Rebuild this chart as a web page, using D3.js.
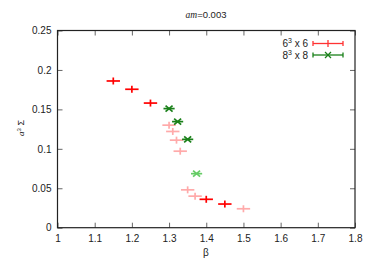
<!DOCTYPE html>
<html><head><meta charset="utf-8">
<script src="https://cdn.jsdelivr.net/npm/d3@7"></script>
<style>body{margin:0;background:#fff}text{font-family:"Liberation Sans",Arial,sans-serif}</style>
</head><body>
<svg id="c" width="374" height="261"></svg>
<script>
const xTicks=[1,1.1,1.2,1.3,1.4,1.5,1.6,1.7,1.8];
const yTicks=[0,0.05,0.1,0.15,0.2,0.25];
const xTickLabels=["1","1.1","1.2","1.3","1.4","1.5","1.6","1.7","1.8"];
const yTickLabels=["0","0.05","0.1","0.15","0.2","0.25"];
// 6^3 x 6 (bright red)
const redBeta=[1.15,1.20,1.25,1.40,1.45];
const redVal=[0.186,0.1755,0.158,0.036,0.030];
const redErr=[0.018,0.018,0.018,0.018,0.018];
// 6^3 x 6 (pale red)
const paleRedBeta=[1.30,1.31,1.32,1.33,1.35,1.37,1.50];
const paleRedVal=[0.130,0.122,0.111,0.097,0.048,0.040,0.024];
const paleRedErr=[0.018,0.018,0.018,0.018,0.018,0.018,0.018];
// 8^3 x 8 (dark green)
const greenBeta=[1.30,1.323,1.35];
const greenVal=[0.151,0.1345,0.112];
const greenErr=[0.015,0.015,0.015];
// 8^3 x 8 (pale green)
const paleGreenBeta=[1.374];
const paleGreenVal=[0.0685];
const paleGreenErr=[0.015];

const svg=d3.select("#c");
const L=57.5,R=355,T=30.5,B=227.7;
const x=d3.scaleLinear().domain([1,1.8]).range([L,R]);
const y=d3.scaleLinear().domain([0,0.25]).range([B,T]);

const ax=svg.append("g").attr("transform",`translate(0,${B})`).call(d3.axisBottom(x).tickValues(xTicks).tickFormat((d,i)=>xTickLabels[i]).tickSizeInner(-5).tickSizeOuter(0).tickPadding(7));
const ay=svg.append("g").attr("transform",`translate(${L},0)`).call(d3.axisLeft(y).tickValues(yTicks).tickFormat((d,i)=>yTickLabels[i]).tickSizeInner(-5).tickSizeOuter(0).tickPadding(6));
const at=svg.append("g").attr("transform",`translate(0,${T})`).call(d3.axisTop(x).tickValues(xTicks).tickFormat("").tickSizeInner(-5).tickSizeOuter(0));
const ar=svg.append("g").attr("transform",`translate(${R},0)`).call(d3.axisRight(y).tickValues(yTicks).tickFormat("").tickSizeInner(-5).tickSizeOuter(0));
[ax,ay,at,ar].forEach(g=>{g.select(".domain").remove();g.selectAll("line").attr("stroke","#666");g.selectAll("text").attr("font-size",10).attr("fill","#222").attr("font-family","Liberation Sans, Arial, sans-serif");});
svg.append("rect").attr("x",L).attr("y",T).attr("width",R-L).attr("height",B-T).attr("fill","none").attr("stroke","#222").attr("stroke-width",1.2);

function plot(beta,val,err,color,marker){
  const g=svg.append("g").attr("stroke",color).attr("stroke-width",1.7).attr("fill","none");
  beta.forEach((b,i)=>{
    const cx=x(b),cy=y(val[i]),x0=x(b-err[i]),x1=x(b+err[i]);
    g.append("line").attr("x1",x0).attr("x2",x1).attr("y1",cy).attr("y2",cy);
    if(marker==="+"){
      g.append("line").attr("x1",cx).attr("x2",cx).attr("y1",cy-3.5).attr("y2",cy+3.5);
    } else {
      g.append("line").attr("x1",cx-3.5).attr("x2",cx+3.5).attr("y1",cy-3).attr("y2",cy+3);
      g.append("line").attr("x1",cx-3.5).attr("x2",cx+3.5).attr("y1",cy+3).attr("y2",cy-3);
    }
  });
}
plot(paleRedBeta,paleRedVal,paleRedErr,"#ffaaaa","+");
plot(paleGreenBeta,paleGreenVal,paleGreenErr,"#66cc66","x");
plot(redBeta,redVal,redErr,"#ff0000","+");
plot(greenBeta,greenVal,greenErr,"#1a801a","x");

// legend
function legendRow(yy,base,color,marker){
  const t=svg.append("text").attr("x",308).attr("y",yy+3.5).attr("text-anchor","end").attr("font-size",10).attr("fill","#222");
  t.append("tspan").text(base);
  t.append("tspan").attr("dy",-4).attr("font-size",7).text("3");
  t.append("tspan").attr("dy",4).text(" x "+base);
  const g=svg.append("g").attr("stroke",color).attr("stroke-width",1.3);
  const x0=313,x1=343,cx=(x0+x1)/2;
  g.append("line").attr("x1",x0).attr("x2",x1).attr("y1",yy).attr("y2",yy);
  g.append("line").attr("x1",x0).attr("x2",x0).attr("y1",yy-2.5).attr("y2",yy+2.5);
  g.append("line").attr("x1",x1).attr("x2",x1).attr("y1",yy-2.5).attr("y2",yy+2.5);
  if(marker==="+") g.append("line").attr("x1",cx).attr("x2",cx).attr("y1",yy-3.5).attr("y2",yy+3.5);
  else {g.append("line").attr("x1",cx-3).attr("x2",cx+3).attr("y1",yy-3).attr("y2",yy+3);g.append("line").attr("x1",cx-3).attr("x2",cx+3).attr("y1",yy+3).attr("y2",yy-3);}
}
legendRow(43.5,"6","#ff3333","+");
legendRow(55,"8","#1a801a","x");

// title
const tt=svg.append("text").attr("x",206).attr("y",18).attr("text-anchor","middle").attr("font-size",9.5).attr("fill","#222");
tt.append("tspan").attr("font-style","italic").attr("font-family","Liberation Serif, serif").text("am");
tt.append("tspan").text("=0.003");
// axis labels
svg.append("text").attr("x",206).attr("y",256).attr("text-anchor","middle").attr("font-size",10).attr("fill","#222").text("β");
const yl=svg.append("text").attr("transform","translate(24,128) rotate(-90)").attr("text-anchor","middle").attr("font-size",9).attr("fill","#222");
yl.append("tspan").attr("font-style","italic").attr("font-family","Liberation Serif, serif").text("a");
yl.append("tspan").attr("dy",-3.5).attr("font-size",6).text("3");
yl.append("tspan").attr("dy",3.5).text(" Σ");
</script>
</body></html>
